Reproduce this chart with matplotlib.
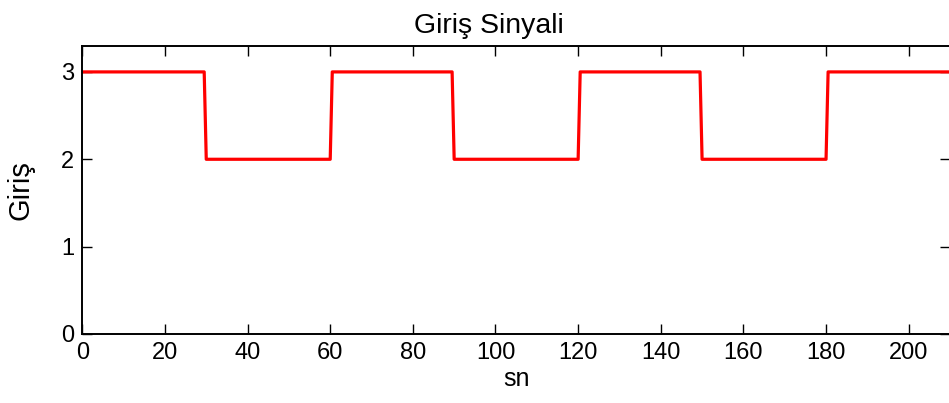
import matplotlib.pyplot as plt

# square-wave input signal (time in sn, value)
t = [0, 29.5, 30, 60, 60.5, 89.5, 90, 120, 120.5, 149.5, 150, 180, 180.5, 210]
giris = [3, 3, 2, 2, 3, 3, 2, 2, 3, 3, 2, 2, 3, 3]

xticks = [0, 20, 40, 60, 80, 100, 120, 140, 160, 180, 200]
yticks = [0, 1, 2, 3]

plt.rcParams['font.family'] = ['Liberation Sans', 'DejaVu Sans']

fig = plt.figure(figsize=(9.49, 4.03), dpi=100)
ax = fig.add_axes([82.3 / 949, 1 - 334 / 403, (950 - 82.3) / 949, (334 - 45.7) / 403])

ax.plot(t, giris, color='red', linewidth=2.3)

ax.set_xlim(0, 210)
ax.set_ylim(0, 3.3)
ax.set_xticks(xticks)
ax.set_yticks(yticks)
ax.tick_params(direction='in', length=7, width=1, top=True, right=True,
               labelsize=17, pad=6)
for s in ax.spines.values():
    s.set_linewidth(1.4)

ax.set_title('Giriş Sinyali', fontsize=20.5, x=0.468, pad=9)
ax.set_xlabel('sn', fontsize=18, labelpad=2)
ax.set_ylabel('Giriş', fontsize=21, labelpad=19)

fig.savefig('out.png', dpi=100)
